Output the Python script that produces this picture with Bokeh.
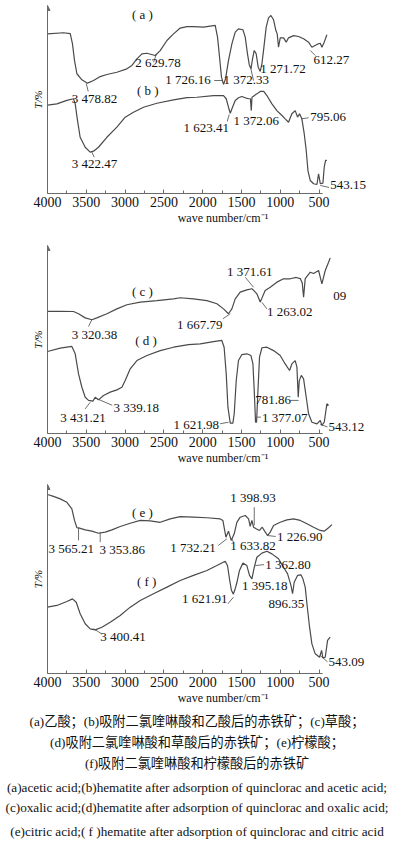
from bokeh.plotting import figure
from bokeh.models import Range1d, FixedTicker, Arrow, NormalHead, Div
from bokeh.layouts import column
from bokeh.embed import file_html
from bokeh.resources import INLINE
from bokeh.core.properties import value

SERIF = "Liberation Serif"
CURVE = "#4a4a4a"
AXIS = "#6a6a6a"
TXT = "#111111"

# ---------------- data: wavenumber (cm-1) and transmittance (arbitrary %) ----------------
wn_a = [4000, 3794, 3707, 3678, 3652, 3621, 3557, 3485, 3407, 3321, 3235, 3106, 2977, 2912, 2848, 2783, 2719, 2612, 2548, 2461,
        2376, 2290, 2204, 2119, 1990, 1839, 1809, 1783, 1758, 1732, 1706, 1668, 1624, 1581, 1539, 1482, 1452, 1423, 1400, 1378,
        1358, 1336, 1311, 1285, 1259, 1237, 1216, 1182, 1152, 1121, 1087, 1057, 1040, 1023, 1001, 958, 924, 894, 829, 765,
        700, 636, 593, 528, 485, 464, 434, 400]
T_a = [84.9, 85.5, 85.0, 79.6, 70.7, 63.7, 60.5, 58.7, 60.1, 62.2, 63.3, 64.5, 66.3, 68.1, 71.6, 74.3, 74.6, 73.4, 76.0, 81.4,
       84.9, 88.0, 88.8, 88.8, 88.5, 89.4, 83.2, 72.5, 61.9, 58.0, 61.0, 70.7, 79.6, 85.8, 87.6, 87.1, 83.2, 74.3, 68.5, 66.3,
       71.6, 76.1, 74.3, 67.2, 64.9, 69.0, 76.1, 88.5, 93.4, 94.7, 92.4, 86.7, 84.9, 77.8, 82.8, 82.8, 80.5, 82.8, 84.0, 83.5,
       82.3, 80.5, 77.8, 79.3, 79.9, 77.8, 80.5, 84.4]

wn_b = [4000, 3879, 3750, 3665, 3643, 3613, 3579, 3514, 3450, 3407, 3343, 3235, 3106, 2999, 2892, 2763, 2590, 2376, 2204, 2075,
        1861, 1732, 1697, 1668, 1645, 1616, 1581, 1539, 1495, 1452, 1409, 1385, 1374, 1365, 1302, 1259, 1216, 1173, 1108, 1044,
        979, 937, 894, 851, 808, 778, 752, 722, 692, 666, 644, 614, 571, 528, 507, 485, 451, 434, 417, 400]
T_b = [47.0, 47.7, 49.5, 50.4, 47.7, 38.8, 29.9, 24.6, 22.0, 22.5, 24.6, 29.9, 35.3, 40.6, 43.2, 45.9, 48.0, 49.8, 51.0, 51.2,
       52.1, 52.1, 50.4, 45.9, 42.7, 45.9, 49.5, 50.9, 51.6, 50.9, 50.4, 50.4, 44.1, 51.2, 53.0, 54.3, 54.4, 52.1, 47.7, 44.1,
       41.5, 39.7, 37.9, 42.4, 44.1, 40.6, 42.4, 39.7, 31.8, 22.9, 12.2, 6.9, 5.2, 4.8, 10.5, 5.2, 5.5, 14.0, 17.6, 17.6]

wn_c = [4000, 3836, 3665, 3600, 3514, 3428, 3364, 3235, 3106, 2977, 2805, 2590, 2376, 2290, 2119, 1946, 1817, 1732, 1668, 1624,
        1581, 1517, 1431, 1366, 1340, 1302, 1259, 1237, 1195, 1130, 1044, 958, 872, 795, 743, 717, 700, 679, 614, 571,
        507, 464, 421, 378, 357]
T_c = [65.0, 65.0, 64.9, 63.7, 61.5, 60.5, 61.5, 63.7, 66.3, 68.5, 69.9, 70.7, 71.6, 72.2, 71.6, 70.7, 69.0, 66.3, 63.7, 66.3,
       71.6, 75.2, 76.4, 77.0, 76.0, 74.3, 69.9, 72.0, 76.1, 77.8, 80.5, 82.3, 82.3, 83.0, 82.4, 80.0, 72.5, 82.4, 85.8, 85.1,
       86.7, 79.6, 86.7, 91.1, 93.4]

wn_d = [4000, 3836, 3686, 3643, 3600, 3557, 3514, 3471, 3415, 3385, 3343, 3278, 3192, 3106, 3041, 2999, 2934, 2848, 2719, 2548,
        2376, 2183, 2032, 1861, 1754, 1724, 1697, 1675, 1645, 1611, 1594, 1568, 1539, 1495, 1431, 1379, 1353, 1336, 1319, 1306,
        1288, 1268, 1237, 1173, 1087, 1001, 937, 881, 851, 808, 786, 769, 756, 730, 700, 666, 636, 593, 528, 485,
        464, 434, 400, 378]
T_d = [43.6, 45.4, 46.3, 42.4, 31.7, 24.6, 19.3, 17.6, 17.2, 19.3, 17.9, 20.2, 22.0, 23.2, 24.6, 28.2, 34.4, 38.8, 41.5, 44.1,
       45.9, 47.3, 47.7, 48.9, 49.5, 45.9, 31.7, 14.0, 5.5, 5.5, 10.5, 28.2, 38.8, 42.0, 42.4, 41.5, 37.0, 22.9, 6.0, 6.0,
       22.9, 40.6, 45.6, 45.9, 44.1, 41.5, 37.0, 33.5, 37.0, 38.8, 35.3, 19.3, 28.0, 30.9, 29.1, 19.3, 10.5, 6.0, 5.1, 6.9,
       4.3, 6.0, 15.8, 14.9]

wn_e = [4000, 3923, 3836, 3750, 3686, 3652, 3621, 3588, 3514, 3428, 3343, 3256, 3170, 3063, 2934, 2805, 2676, 2548, 2419, 2290,
        2119, 1946, 1774, 1740, 1701, 1668, 1633, 1594, 1560, 1517, 1452, 1409, 1388, 1366, 1345, 1311, 1268, 1233, 1208, 1165,
        1130, 1087, 1001, 915, 829, 743, 657, 571, 485, 434, 378, 335]
T_e = [94.7, 93.7, 92.4, 90.6, 87.1, 81.0, 77.1, 76.9, 76.0, 75.3, 74.2, 74.8, 76.0, 77.8, 79.5, 81.0, 80.8, 80.0, 81.8, 83.0,
       82.7, 82.4, 81.8, 81.0, 72.1, 75.3, 70.4, 73.9, 80.0, 82.7, 83.6, 81.8, 77.8, 81.0, 77.4, 76.6, 75.7, 77.4, 75.7, 73.0,
       74.8, 78.3, 80.0, 81.3, 81.8, 81.0, 79.2, 77.4, 75.7, 75.3, 77.1, 78.8]

wn_f = [4000, 3879, 3750, 3678, 3630, 3579, 3514, 3450, 3385, 3299, 3192, 3063, 2934, 2805, 2634, 2461, 2290, 2119, 1946, 1817,
        1710, 1680, 1655, 1630, 1605, 1580, 1560, 1526, 1482, 1431, 1397, 1366, 1336, 1302, 1237, 1173, 1108, 1023, 958, 906,
        863, 842, 821, 778, 735, 709, 679, 657, 623, 593, 550, 494, 468, 451, 421, 391, 357]
T_f = [35.1, 36.0, 38.1, 39.5, 37.7, 31.6, 26.3, 23.6, 23.1, 24.5, 27.1, 30.7, 35.1, 38.6, 42.2, 45.7, 49.2, 51.9, 54.5, 57.1,
       59.4, 57.0, 50.0, 44.0, 42.0, 45.0, 48.0, 54.5, 58.4, 57.1, 51.9, 50.1, 56.2, 61.5, 63.7, 64.7, 63.3, 60.7, 56.2, 52.7,
       46.6, 42.2, 48.3, 51.9, 52.2, 50.1, 45.7, 36.9, 24.5, 15.7, 10.4, 8.6, 12.2, 8.3, 8.6, 17.5, 19.2]

x_ticks = [4000, 3500, 3000, 2500, 2000, 1500, 1000, 500]
x_minor = [3750, 3250, 2750, 2250, 1750, 1250, 750]

# ---------------- peak annotations (text, wavenumber, T) ----------------
lab1_text = ["( a )", "2 629.78", "3 478.82", "( b )", "1 726.16", "1 372.33", "1 271.72", "612.27",
             "3 422.47", "1 623.41", "1 372.06", "795.06", "543.15"]
lab1_wn = [2912, 2870, 3686, 2848, 2483, 1732, 1259, 572, 3686, 2247, 1603, 615, 357]
lab1_T = [95.2, 69.5, 50.4, 54.8, 60.6, 60.6, 66.3, 71.1, 15.8, 35.3, 38.8, 40.6, 4.3]
lead1 = dict(x0=[3475, 2634, 1852, 1379, 614, 3428, 1658, 731, 485],
             y0=[54.3, 69.8, 60.1, 66.3, 76.1, 22.0, 42.0, 39.7, 4.3],
             x1=[3501, 2599, 1749, 1345, 550, 3398, 1684, 636, 372],
             y1=[58.5, 73.9, 60.1, 60.1, 73.4, 19.3, 38.3, 40.3, 3.2])

lab2_text = ["( c )", "3 320.38", "1 371.61", "1 667.79", "1 263.02", "09", "( d )", "3 431.21",
             "3 339.18", "1 621.98", "781.86", "1 377.07", "543.12"]
lab2_wn = [2912, 3686, 1688, 2332, 1173, 318, 2870, 3836, 3149, 2376, 1323, 1237, 379]
lab2_T = [75.7, 52.7, 86.3, 57.8, 65.0, 72.9, 49.5, 8.7, 14.0, 4.8, 17.6, 8.4, 3.4]
lead2 = dict(x0=[3472, 1452, 1740, 1237, 3514, 3363, 1774, 872, 1302, 485],
             y0=[56.9, 83.1, 61.0, 69.8, 13.1, 18.5, 5.2, 17.6, 8.7, 4.8],
             x1=[3428, 1345, 1645, 1173, 3450, 3165, 1667, 765, 1250, 392],
             y1=[60.5, 77.8, 63.7, 66.3, 16.6, 15.0, 6.0, 17.6, 8.7, 3.5])

lab3_text = ["( e )", "1 398.93", "3 565.21", "3 353.86", "1 732.21", "1 633.82", "1 226.90", "( f )",
             "1 362.80", "1 395.18", "1 621.91", "896.35", "3 400.41", "543.09"]
lab3_wn = [2912, 1646, 3987, 3330, 2419, 1646, 1044, 2848, 1195, 1495, 2268, 1152, 3321, 379]
lab3_T = [85.3, 93.0, 66.0, 65.4, 66.5, 67.7, 72.5, 48.8, 57.7, 46.6, 39.5, 36.9, 19.6, 6.0]
lead3 = dict(x0=[1336, 3600, 3321, 1800, 1603, 1165, 1323, 1675, 3407, 485],
             y0=[88.0, 77.4, 74.8, 67.7, 69.5, 73.0, 57.1, 36.9, 23.7, 9.5],
             x1=[1336, 3600, 3321, 1688, 1624, 1060, 1210, 1603, 3310, 392],
             y1=[78.3, 70.4, 69.5, 71.3, 71.3, 72.5, 57.6, 40.4, 21.2, 6.2])

caption_lines = [
    "(a)乙酸；(b)吸附二氯喹啉酸和乙酸后的赤铁矿；(c)草酸；",
    "(d)吸附二氯喹啉酸和草酸后的赤铁矿；(e)柠檬酸；",
    "(f)吸附二氯喹啉酸和柠檬酸后的赤铁矿",
    "(a)acetic acid;(b)hematite after adsorption of quinclorac and acetic acid;",
    "(c)oxalic acid;(d)hematite after adsorption of quinclorac and oxalic acid;",
    "(e)citric acid;( f )hematite after adsorption of quinclorac and citric acid",
]

W = 398
LEFT = 47


def panel(height, top_border, y_top, curves, labels, leads):
    p = figure(width=W, height=height, x_range=Range1d(4000, -523), y_range=Range1d(0, y_top),
               output_backend="svg", toolbar_location=None,
               min_border_left=LEFT, min_border_right=0, min_border_top=top_border, min_border_bottom=39)
    p.grid.visible = False
    p.outline_line_color = None
    p.background_fill_color = "white"
    p.border_fill_color = "white"

    xa = p.xaxis[0]
    xa.ticker = FixedTicker(ticks=x_ticks, minor_ticks=x_minor)
    xa.bounds = (450, 4000)
    xa.axis_line_color = AXIS
    xa.major_tick_line_color = AXIS
    xa.minor_tick_line_color = AXIS
    xa.major_tick_in = 4
    xa.major_tick_out = 0
    xa.minor_tick_in = 3
    xa.minor_tick_out = 0
    xa.major_label_text_font = SERIF
    xa.major_label_text_font_size = "14px"
    xa.major_label_text_color = TXT
    xa.major_label_standoff = 3
    xa.axis_label = "wave number/cm\u207b\u00b9"
    xa.axis_label_text_font = SERIF
    xa.axis_label_text_font_style = "normal"
    xa.axis_label_text_font_size = "12px"
    xa.axis_label_text_color = TXT
    xa.axis_label_standoff = 1

    ya = p.yaxis[0]
    ya.ticker = FixedTicker(ticks=[])
    ya.axis_line_color = AXIS
    ya.major_tick_out = 0
    ya.minor_tick_out = 0
    ya.major_tick_in = 0
    ya.minor_tick_in = 0
    ya.axis_label = "T/%"
    ya.axis_label_text_font = SERIF
    ya.axis_label_text_font_style = "italic"
    ya.axis_label_text_font_size = "11px"
    ya.axis_label_text_color = TXT
    ya.axis_label_standoff = 4

    p.add_layout(Arrow(end=NormalHead(size=5, fill_color=AXIS, line_color=AXIS),
                       x_start=4000, y_start=y_top - 3, x_end=4000, y_end=y_top,
                       line_color=AXIS, line_width=1))

    for wn, T in curves:
        p.line(wn, T, line_color=CURVE, line_width=1.2)

    p.segment(x0=leads["x0"], y0=leads["y0"], x1=leads["x1"], y1=leads["y1"],
              line_color=CURVE, line_width=0.8)

    txt, lx, ly = labels
    p.text(x=lx, y=ly, text=txt, text_font=value(SERIF), text_font_size=value("13px"),
           text_align="left", text_baseline="middle", text_color=TXT)
    return p


p1 = panel(232, 5, 100, [(wn_a, T_a), (wn_b, T_b)], (lab1_text, lab1_wn, lab1_T), lead1)
p2 = panel(240, 13, 100, [(wn_c, T_c), (wn_d, T_d)], (lab2_text, lab2_wn, lab2_T), lead2)
p3 = panel(240, 12, 100, [(wn_e, T_e), (wn_f, T_f)], (lab3_text, lab3_wn, lab3_T), lead3)

# caption block as real HTML text (not clipped by any plot frame)
CAP_H = 133
cap_centers = [10, 31, 52, 76, 96, 120]
cap_sizes = [13.2, 13.2, 13.2, 13.2, 13.2, 13.2]
rows = []
for line, c, fs in zip(caption_lines, cap_centers, cap_sizes):
    rows.append(
        '<div style="position:absolute;left:0;width:394px;top:%dpx;height:18px;line-height:18px;'
        'text-align:center;white-space:nowrap;font-family:\'Liberation Serif\',\'Noto Sans CJK SC\',serif;'
        'font-size:%spx;color:#111111;">%s</div>' % (c - 9, fs, line))
html = ('<div style="position:relative;width:%dpx;height:%dpx;margin:0;padding:0;overflow:visible;">'
        % (W, CAP_H)) + "".join(rows) + "</div>"
cap = Div(text=html, width=W, height=CAP_H, margin=(0, 0, 0, 0))

layout = column(p1, p2, p3, cap, spacing=0)
open("out.html", "w").write(file_html(layout, INLINE))
